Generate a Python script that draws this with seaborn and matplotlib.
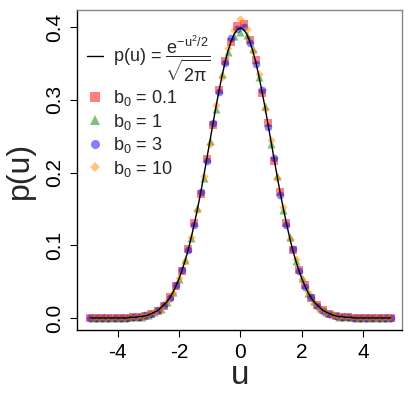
import matplotlib
matplotlib.use('Agg')
import matplotlib.pyplot as plt
import numpy as np
import pandas as pd
import seaborn as sns
from matplotlib.lines import Line2D

sns.set_style('ticks')
plt.rcParams['font.family'] = ['Liberation Sans', 'DejaVu Sans']
plt.rcParams['mathtext.fontset'] = 'custom'
plt.rcParams['mathtext.rm'] = 'Liberation Sans'
plt.rcParams['mathtext.it'] = 'Liberation Sans'
plt.rcParams['mathtext.bf'] = 'Liberation Sans:bold'

# theoretical curve p(u), u = -4.9 .. 4.9 step 0.1
curve_u = [round(-4.9 + 0.1 * i, 1) for i in range(99)]
half_p = [0.397, 0.391, 0.381, 0.368, 0.352, 0.333, 0.312, 0.290, 0.266, 0.242,
          0.218, 0.194, 0.171, 0.150, 0.130, 0.111, 0.094, 0.079, 0.066, 0.054,
          0.044, 0.035, 0.028, 0.022, 0.018, 0.014, 0.010, 0.008, 0.006, 0.004,
          0.003, 0.002, 0.002, 0.001, 0.001, 0.001, 0.000, 0.000, 0.000, 0.000,
          0.000, 0.000, 0.000, 0.000, 0.000, 0.000, 0.000, 0.000, 0.000]
curve_p = half_p[::-1] + [0.399] + half_p

# sample points
u_a = [-4.9, -4.7, -4.5, -4.3, -4.1, -3.9, -3.7, -3.5, -3.3, -3.1,
       -2.9, -2.7, -2.5, -2.3, -2.1, -1.9, -1.7, -1.5, -1.3, -1.1,
       -0.9, -0.7, -0.5, -0.3, -0.1, 0.1, 0.3, 0.5, 0.7, 0.9,
       1.1, 1.3, 1.5, 1.7, 1.9, 2.1, 2.3, 2.5, 2.7, 2.9,
       3.1, 3.3, 3.5, 3.7, 3.9, 4.1, 4.3, 4.5, 4.7, 4.9]
u_b = [-4.8, -4.6, -4.4, -4.2, -4.0, -3.8, -3.6, -3.4, -3.2, -3.0,
       -2.8, -2.6, -2.4, -2.2, -2.0, -1.8, -1.6, -1.4, -1.2, -1.0,
       -0.8, -0.6, -0.4, -0.2, 0.0, 0.2, 0.4, 0.6, 0.8, 1.0,
       1.2, 1.4, 1.6, 1.8, 2.0, 2.2, 2.4, 2.6, 2.8, 3.0,
       3.2, 3.4, 3.6, 3.8, 4.0, 4.2, 4.4, 4.6, 4.8]

p_b01 = [0, 0, 0, 0, 0, 0.000, 0.000, 0.001, 0.002, 0.003,
         0.006, 0.010, 0.017, 0.029, 0.044, 0.065, 0.095, 0.130, 0.170, 0.219,
         0.265, 0.314, 0.354, 0.380, 0.402, 0.404, 0.383, 0.355, 0.310, 0.268,
         0.216, 0.173, 0.131, 0.093, 0.066, 0.045, 0.028, 0.018, 0.011, 0.006,
         0.003, 0.002, 0.001, 0.000, 0, 0, 0, 0, 0, 0]
p_b3 = [0, 0, 0, 0, 0, 0, 0, 0.001, 0.002, 0.004,
        0.006, 0.011, 0.018, 0.028, 0.045, 0.066, 0.093, 0.128, 0.173, 0.216,
        0.268, 0.311, 0.351, 0.385, 0.398, 0.401, 0.379, 0.350, 0.313, 0.263,
        0.220, 0.169, 0.128, 0.095, 0.064, 0.043, 0.029, 0.017, 0.010, 0.006,
        0.003, 0.002, 0.001, 0, 0, 0, 0, 0, 0, 0]
p_b1 = [0, 0, 0, 0, 0, 0, 0.001, 0.001, 0.002, 0.004,
        0.008, 0.013, 0.022, 0.036, 0.053, 0.080, 0.110, 0.151, 0.192, 0.244,
        0.287, 0.335, 0.366, 0.388, 0.393, 0.390, 0.370, 0.331, 0.292, 0.240,
        0.196, 0.148, 0.112, 0.078, 0.055, 0.035, 0.023, 0.014, 0.008, 0.005,
        0.002, 0.001, 0.001, 0, 0, 0, 0, 0, 0]
p_b10 = [0, 0, 0, 0, 0, 0, 0.001, 0.001, 0.003, 0.005,
         0.008, 0.014, 0.023, 0.035, 0.055, 0.078, 0.112, 0.148, 0.196, 0.240,
         0.293, 0.331, 0.372, 0.396, 0.412, 0.398, 0.367, 0.336, 0.288, 0.245,
         0.192, 0.152, 0.109, 0.081, 0.053, 0.036, 0.021, 0.013, 0.008, 0.004,
         0.002, 0.001, 0.001, 0, 0, 0, 0, 0, 0]

series = [
    (r'b$_0$ = 0.1', u_a, p_b01, 's', '#FF0000', 30),
    (r'b$_0$ = 1', u_b, p_b1, '^', '#008000', 34),
    (r'b$_0$ = 3', u_a, p_b3, 'o', '#0000FF', 30),
    (r'b$_0$ = 10', u_b, p_b10, 'D', '#FF8C00', 18),
]

fig = plt.figure(figsize=(4.19, 3.94), dpi=100)
ax = fig.add_axes([0.184, 0.162, 0.776, 0.812])

handles = [Line2D([], [], color='black', lw=1)]
labels = [r'p(u) = $\dfrac{\mathrm{e}^{-u^2/2}}{\sqrt{2\pi}}$']
for lab, u, p, m, c, s in series:
    df = pd.DataFrame({'u': u, 'p': p})
    sns.scatterplot(data=df, x='u', y='p', marker=m, color=c, alpha=0.5,
                    s=s, linewidth=0, ax=ax, legend=False)
    handles.append(Line2D([], [], marker=m, ls='', color=c, alpha=0.5,
                          markersize=6.5 if m != 'D' else 5, markeredgewidth=0))
    labels.append(lab)

sns.lineplot(x=curve_u, y=curve_p, color='black', lw=1, ax=ax)

ax.set_xlim(-5.32, 5.27)
ax.set_ylim(-0.0168, 0.4234)
ax.set_xticks([-4, -2, 0, 2, 4])
ax.set_xticklabels(['-4', '-2', '0', '2', '4'])
ax.set_yticks([0.0, 0.1, 0.2, 0.3, 0.4])
ax.set_yticklabels(['0.0', '0.1', '0.2', '0.3', '0.4'])
plt.setp(ax.get_yticklabels(), rotation=90, va='center')
ax.tick_params(length=5, width=0.8, labelsize=15, pad=4, colors='black')
ax.set_xlabel('u', fontsize=24, labelpad=-1)
ax.set_ylabel('p(u)', fontsize=23, labelpad=8)

for side in ['top', 'right']:
    ax.spines[side].set_color('#888888')
for side in ['left', 'bottom']:
    ax.spines[side].set_color('black')
for sp in ax.spines.values():
    sp.set_linewidth(1)

ax.legend(handles, labels, loc='upper left', bbox_to_anchor=(0.03, 0.925),
          frameon=False, fontsize=13, handlelength=0.9, handletextpad=0.55,
          labelspacing=0.2, borderaxespad=0, borderpad=0)

fig.savefig('out.png', dpi=100)
